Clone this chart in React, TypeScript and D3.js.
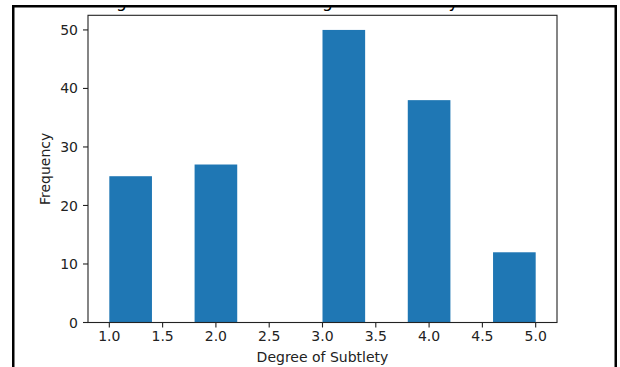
import React from "react";
import * as d3 from "d3";

const binStarts = [1.0, 1.8, 3.0, 3.8, 4.6];
const frequencies = [25, 27, 50, 38, 12];
const binWidth = 0.4;
const xTicks = [1.0, 1.5, 2.0, 2.5, 3.0, 3.5, 4.0, 4.5, 5.0];
const yTicks = [0, 10, 20, 30, 40, 50];
const titleText = "Histogram of the Labelled Degree of Subtlety in All Memes";
const xLabel = "Degree of Subtlety";
const yLabel = "Frequency";

const W = 620;
const H = 367;
const left = 88;
const right = 557;
const top = 15.3;
const bottom = 322.5;
const font = "'DejaVu Sans', sans-serif";
const barColor = "#1f77b4";

export default function App() {
  const x = d3.scaleLinear().domain([0.8, 5.2]).range([left, right]);
  const y = d3.scaleLinear().domain([0, 52.5]).range([bottom, top]);
  const fmt = d3.format(".1f");
  return (
    <svg
      width={W}
      height={H}
      style={{ position: "absolute", left: 0, top: 0, background: "#fff" }}
    >
      <rect x={0} y={0} width={W} height={H} fill="#fff" />
      {/* clipped title */}
      <text
        x={(left + right) / 2}
        y={7}
        textAnchor="middle"
        fontFamily={font}
        fontSize={17}
        fill="#000"
      >
        {titleText}
      </text>
      <rect x={0} y={0} width={W} height={5} fill="#fff" />
      {/* bars */}
      {binStarts.map((b, i) => (
        <rect
          key={i}
          x={x(b)}
          y={y(frequencies[i])}
          width={x(b + binWidth) - x(b)}
          height={y(0) - y(frequencies[i])}
          fill={barColor}
        />
      ))}
      {/* spines */}
      <rect
        x={left}
        y={top}
        width={right - left}
        height={bottom - top}
        fill="none"
        stroke="#222"
        strokeWidth={1.1}
      />
      {/* y ticks */}
      {yTicks.map((t) => (
        <g key={"y" + t}>
          <line x1={left - 5} x2={left} y1={y(t)} y2={y(t)} stroke="#222" strokeWidth={1.1} />
          <text
            x={left - 10}
            y={y(t)}
            dy="0.36em"
            textAnchor="end"
            fontFamily={font}
            fontSize={14}
            fill="#222"
          >
            {t}
          </text>
        </g>
      ))}
      {/* x ticks */}
      {xTicks.map((t) => (
        <g key={"x" + t}>
          <line x1={x(t)} x2={x(t)} y1={bottom} y2={bottom + 5} stroke="#222" strokeWidth={1.1} />
          <text
            x={x(t)}
            y={341}
            textAnchor="middle"
            fontFamily={font}
            fontSize={14}
            fill="#222"
          >
            {fmt(t)}
          </text>
        </g>
      ))}
      <text
        x={(left + right) / 2}
        y={362}
        textAnchor="middle"
        fontFamily={font}
        fontSize={14}
        fill="#222"
      >
        {xLabel}
      </text>
      <text
        transform={`translate(50, ${(top + bottom) / 2}) rotate(-90)`}
        textAnchor="middle"
        fontFamily={font}
        fontSize={14}
        fill="#222"
      >
        {yLabel}
      </text>
      {/* outer frame */}
      <rect x={12} y={5} width={605} height={2.5} fill="#000" />
      <rect x={12} y={5} width={2.5} height={H - 5} fill="#000" />
      <rect x={614.5} y={5} width={2.5} height={H - 5} fill="#000" />
    </svg>
  );
}
